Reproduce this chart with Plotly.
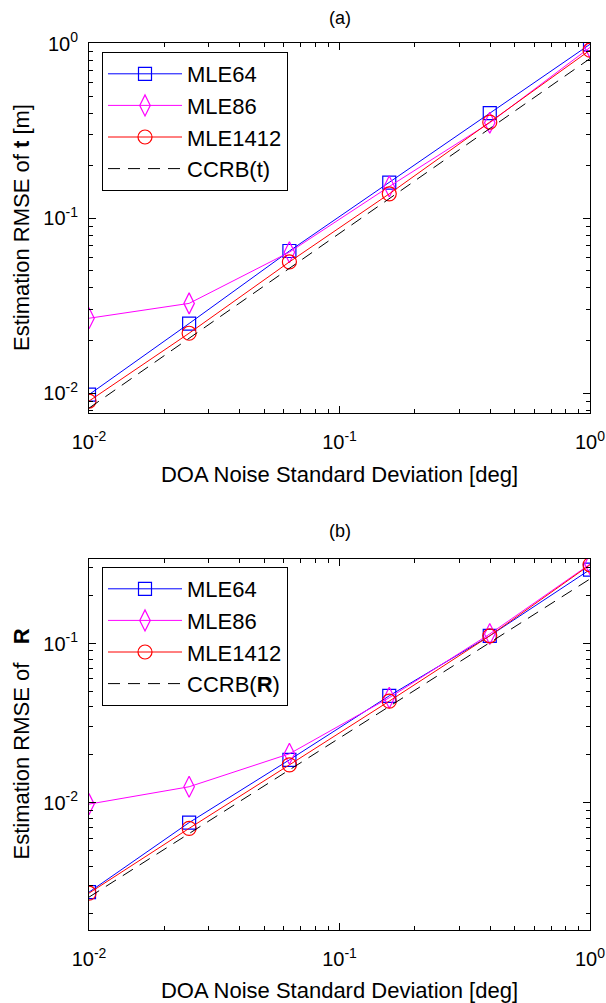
import plotly.graph_objects as go

# ---- data ----
sigma = [0.01, 0.0251, 0.0631, 0.158, 0.398, 1.0]

a_mle64 = [0.0098, 0.025, 0.065, 0.16, 0.40, 0.99]
a_mle86 = [0.0268, 0.0326, 0.064, 0.152, 0.352, 0.95]
a_mle1412 = [0.0090, 0.022, 0.0563, 0.138, 0.355, 0.916]
a_ccrb = [0.0082, 0.0206, 0.0518, 0.130, 0.327, 0.82]

b_mle64 = [0.00274, 0.0075, 0.0186, 0.047, 0.112, 0.292]
b_mle86 = [0.0098, 0.0126, 0.0203, 0.0457, 0.115, 0.316]
b_mle1412 = [0.0027, 0.0069, 0.0173, 0.0435, 0.112, 0.313]
b_ccrb = [0.00255, 0.0064, 0.0161, 0.0404, 0.1015, 0.255]

names_a = ["MLE64", "MLE86", "MLE1412", "CCRB(t)"]
names_b = ["MLE64", "MLE86", "MLE1412", "CCRB(<b>R</b>)"]

x_tickvals = [0.01, 0.1, 1]
x_ticktext = ["10<sup>-2</sup>", "10<sup>-1</sup>", "10<sup>0</sup>"]
ya_tickvals = [0.01, 0.1, 1]
ya_ticktext = ["10<sup>-2</sup>", "10<sup>-1</sup>", "10<sup>0</sup>"]
yb_tickvals = [0.01, 0.1]
yb_ticktext = ["10<sup>-2</sup>", "10<sup>-1</sup>"]
minor_vals = [m * 10.0 ** e for e in range(-3, 1) for m in range(2, 10)]

FONT = "Arial, Liberation Sans, sans-serif"
styles = [
    dict(color="#0000ff", symbol="square-open", size=13, dash="solid", mode="lines+markers"),
    dict(color="#ff00ff", symbol="diamond-tall-open", size=15, dash="solid", mode="lines+markers"),
    dict(color="#ff0000", symbol="circle-open", size=14, dash="solid", mode="lines+markers"),
    dict(color="#000000", symbol="circle", size=1, dash="12px,8px", mode="lines"),
]

fig = go.Figure()

def add_panel(series, names, xa, ya, leg):
    for ys, nm, st in zip(series, names, styles):
        fig.add_trace(go.Scatter(
            x=sigma, y=ys, name=nm, mode=st["mode"], xaxis=xa, yaxis=ya, legend=leg,
            line=dict(color=st["color"], width=1, dash=st["dash"]),
            marker=dict(symbol=st["symbol"], size=st["size"], color=st["color"],
                        line=dict(color=st["color"], width=1.2)),
        ))

add_panel([a_mle64, a_mle86, a_mle1412, a_ccrb], names_a, "x", "y", "legend")
add_panel([b_mle64, b_mle86, b_mle1412, b_ccrb], names_b, "x2", "y2", "legend2")

W, H = 606, 1003
xdom = [89 / W, 590 / W]
ydom_a = [1 - 413 / H, 1 - 43 / H]
ydom_b = [1 - 930 / H, 1 - 559 / H]

def axis_common(tv, tt, standoff):
    return dict(
        type="log", showline=True, linecolor="black", linewidth=1, mirror="allticks",
        ticks="inside", ticklen=7, tickcolor="black", tickwidth=1,
        showgrid=False, zeroline=False, automargin=False,
        tickmode="array", tickvals=tv, ticktext=tt, ticklabelstandoff=standoff,
        tickfont=dict(family=FONT, size=20, color="black"),
        minor=dict(ticks="inside", ticklen=4, tickcolor="black", tickmode="array",
                   tickvals=minor_vals, showgrid=False),
    )

TF = dict(family=FONT, size=22, color="black")
xt = dict(text="DOA Noise Standard Deviation [deg]", font=TF, standoff=14)
LF = dict(family=FONT, size=22, color="black")

def ytitle(text, dom):
    return dict(text=text, x=21 / W, y=(dom[0] + dom[1]) / 2, xref="paper", yref="paper",
                xanchor="center", yanchor="middle", textangle=-90, showarrow=False, font=TF)

fig.update_layout(
    width=W, height=H, margin=dict(l=0, r=0, t=0, b=0, autoexpand=False),
    paper_bgcolor="white", plot_bgcolor="white",
    font=dict(family=FONT, color="black"),
    xaxis=dict(**axis_common(x_tickvals, x_ticktext, 11), domain=xdom, anchor="y", range=[-2, 0], title=xt),
    yaxis=dict(**axis_common(ya_tickvals, ya_ticktext, 6), domain=ydom_a, anchor="x",
               range=[-2.114, 0.003]),
    xaxis2=dict(**axis_common(x_tickvals, x_ticktext, 11), domain=xdom, anchor="y2", range=[-2, 0], title=xt),
    yaxis2=dict(**axis_common(yb_tickvals, yb_ticktext, 6), domain=ydom_b, anchor="x2",
                range=[-2.8, -0.468]),
    legend=dict(x=102 / W, y=1 - 52 / H, xanchor="left", yanchor="top", bordercolor="black", borderwidth=1,
                bgcolor="white", font=LF, itemwidth=74),
    legend2=dict(x=102 / W, y=1 - 567 / H, xanchor="left", yanchor="top", bordercolor="black", borderwidth=1,
                 bgcolor="white", font=LF, itemwidth=74),
    annotations=[
        dict(text="(a)", x=(xdom[0] + xdom[1]) / 2, y=1 - 18 / H, xref="paper", yref="paper",
             xanchor="center", yanchor="middle",
             showarrow=False, font=dict(family=FONT, size=18, color="black")),
        dict(text="(b)", x=(xdom[0] + xdom[1]) / 2, y=1 - 531 / H, xref="paper", yref="paper",
             xanchor="center", yanchor="middle",
             showarrow=False, font=dict(family=FONT, size=18, color="black")),
        ytitle("Estimation RMSE of <b>t</b> [m]", ydom_a),
        ytitle("Estimation RMSE of&nbsp;&nbsp;&nbsp;<b>R</b>", ydom_b),
    ],
    showlegend=True,
)

fig.write_html("out.html")
